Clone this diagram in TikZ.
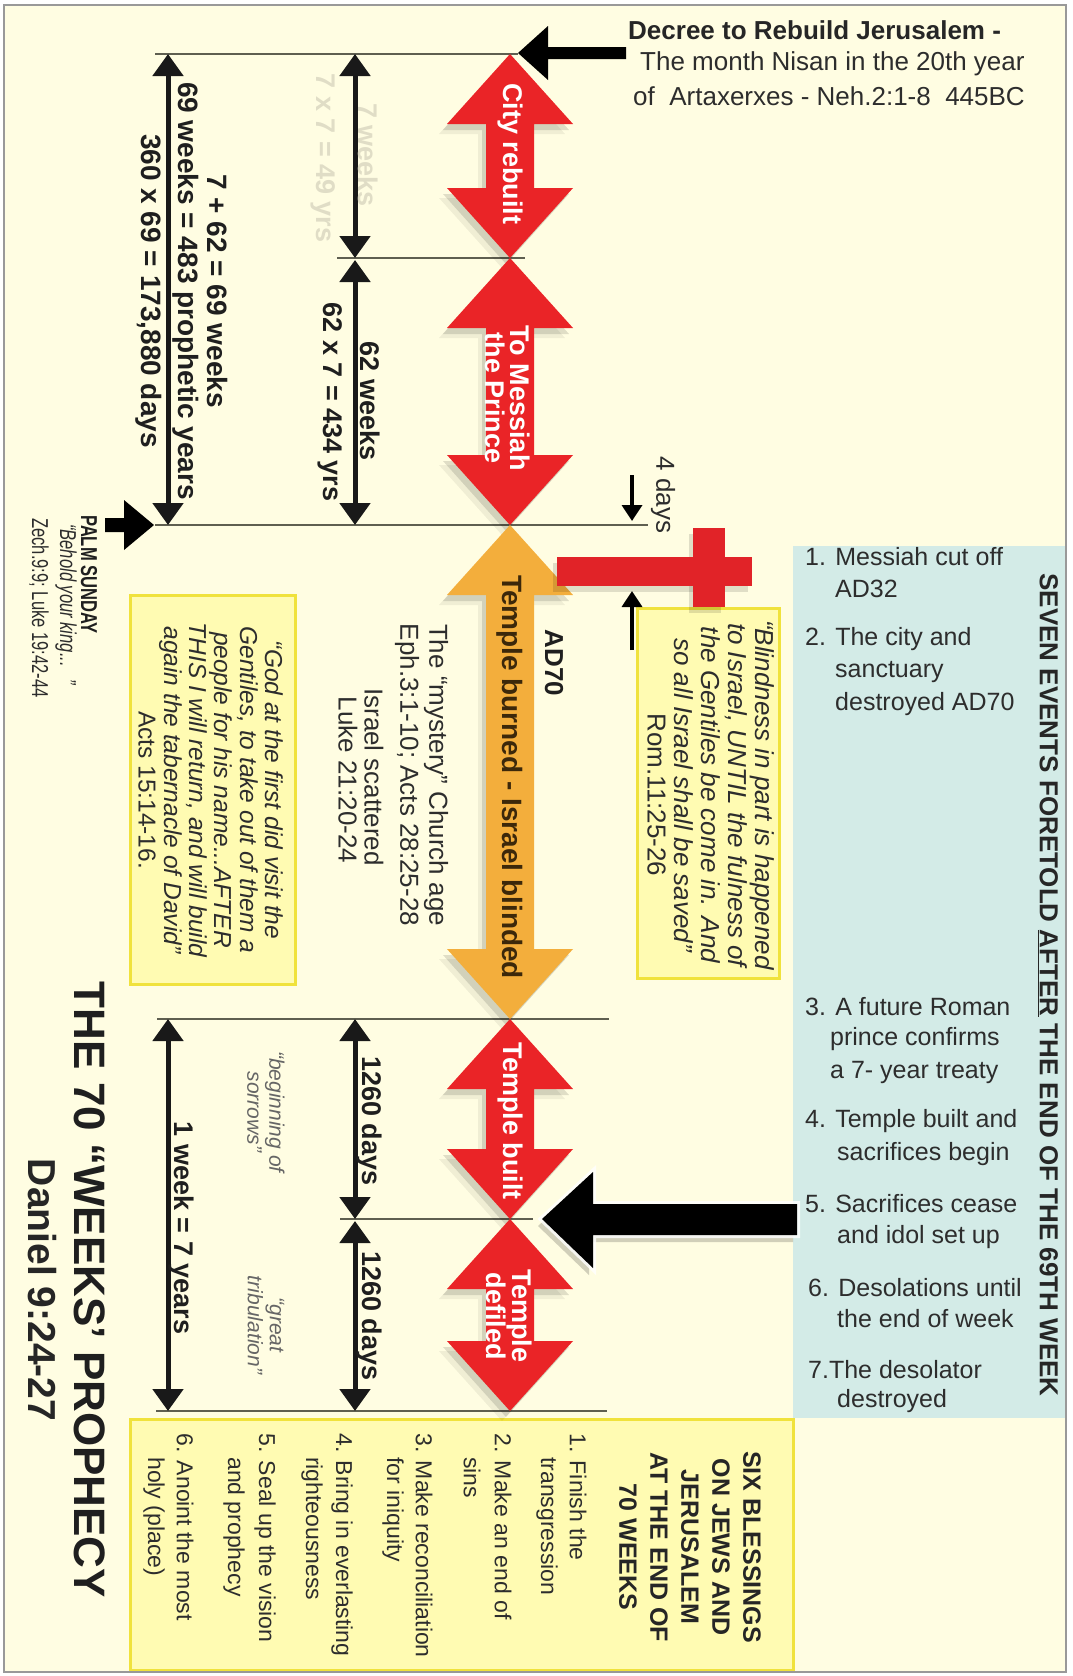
\documentclass[tikz,border=0pt]{standalone}
\usepackage{fontspec}
\setmainfont{Liberation Sans}
\usetikzlibrary{arrows.meta}
\definecolor{cream}{RGB}{255,253,226}
\definecolor{arred}{RGB}{234,36,39}
\definecolor{arorange}{RGB}{243,174,60}
\definecolor{boxyel}{RGB}{255,251,178}
\definecolor{boxyelbd}{RGB}{240,226,60}
\definecolor{boxblue}{RGB}{211,235,231}
\definecolor{txt}{RGB}{45,45,45}
\definecolor{faint}{RGB}{224,221,198}
\definecolor{linegray}{RGB}{95,95,80}
\definecolor{crossred}{RGB}{225,35,40}
\definecolor{burntxt}{RGB}{60,40,10}
\newcommand{\fsz}[2]{\fontsize{#1}{#2}\selectfont}
\newcommand{\narrowtxt}[1]{\scalebox{0.72}[1]{#1}}
\newcommand{\dblpath}[3]{(#1,#2) -- (#1+63,#2+70) -- (#1+24,#2+70) -- (#1+24,#3-70) -- (#1+63,#3-70) -- (#1,#3) -- (#1-63,#3-70) -- (#1-24,#3-70) -- (#1-24,#2+70) -- (#1-63,#2+70) -- cycle}
\tikzset{
  vtxt/.style={rotate=-90},
  whitelab/.style={rotate=-90, text=white, font=\fsz{27}{25}\bfseries, align=center},
  dimlab/.style={rotate=-90, font=\fsz{27}{30}\bfseries, text=black!88},
  dimarr/.style={line width=5pt, draw=black!90, {Triangle[width=30pt,length=22pt]}-{Triangle[width=30pt,length=22pt]}},
  smallarr/.style={line width=3.5pt, draw=black, -{Triangle[width=20pt,length=16pt]}},
  tline/.style={line width=2pt, draw=linegray},
  yelbox/.style={fill=boxyel, draw=boxyelbd, line width=3pt},
  bluetxt/.style={anchor=west, font=\fsz{25}{28}},
  itemtxt/.style={rotate=-90, anchor=west, font=\fsz{23}{25}},
}
\begin{document}
\begin{tikzpicture}[x=1pt,y=-1pt, every node/.style={inner sep=0pt, text=txt}]
\useasboundingbox (0,0) rectangle (1073,1676);
\fill[white] (0,0) rectangle (1073,1676);
\fill[cream] (4,5) rectangle (1066,1672);

% boxes
\fill[boxblue] (793,546) rectangle (1066,1418);
\draw[yelbox] (130,1419) rectangle (793,1670);
\draw[yelbox] (130,595) rectangle (295,984);
\draw[yelbox] (637,608) rectangle (779,978);

% timeline tick lines
\coordinate (T0a) at (155,54);   \coordinate (T0b) at (518,54);
\coordinate (T1a) at (337,258);  \coordinate (T1b) at (525,258);
\coordinate (T2a) at (155,525);  \coordinate (T2b) at (648,525);
\coordinate (T3a) at (157,1019); \coordinate (T3b) at (609,1019);
\coordinate (T4a) at (340,1219); \coordinate (T4b) at (533,1219);
\coordinate (T5a) at (156,1411); \coordinate (T5b) at (607,1411);
\foreach \n in {0,...,5} { \draw[tline] (T\n a) -- (T\n b); }

% shadows of central arrows
\foreach \sx/\sy/\op in {-8/10/0.06,-4/6/0.12} {
  \fill[black,opacity=\op,shift={(\sx,\sy)}] \dblpath{510}{54}{258};
  \fill[black,opacity=\op,shift={(\sx,\sy)}] \dblpath{510}{258}{525};
  \fill[black,opacity=\op,shift={(\sx,\sy)}] \dblpath{510}{525}{1019};
  \fill[black,opacity=\op,shift={(\sx,\sy)}] \dblpath{510}{1019}{1219};
  \fill[black,opacity=\op,shift={(\sx,\sy)}] \dblpath{510}{1219}{1411};
}
% central arrows
\fill[arred] \dblpath{510}{54}{258};
\fill[arred] \dblpath{510}{258}{525};
\fill[arorange] \dblpath{510}{525}{1019};
\fill[arred] \dblpath{510}{1019}{1219};
\fill[arred] \dblpath{510}{1219}{1411};

% cross
\fill[black,opacity=0.12] (553,563) rectangle (748,592);
\fill[black,opacity=0.12] (689,534) rectangle (721,613);
\fill[crossred] (557,557) rectangle (752,586);
\fill[crossred] (693,528) rectangle (725,607);

% black pointer arrows
\fill[black] (518,53) -- (548,26) -- (548,47) -- (626,47) -- (626,59) -- (548,59) -- (548,80) -- cycle;
\fill[black] (154,525) -- (124,500) -- (124,518) -- (105,518) -- (105,532) -- (124,532) -- (124,550) -- cycle;
\fill[black,opacity=0.18] (538,1226) -- (589,1179) -- (589,1211) -- (793,1211) -- (793,1242) -- (589,1242) -- (589,1275) -- cycle;
\draw[white,line width=6pt,opacity=0.8,line join=miter] (542,1219) -- (593,1172) -- (593,1204) -- (797,1204) -- (797,1235) -- (593,1235) -- (593,1268) -- cycle;
\fill[black] (542,1219) -- (593,1172) -- (593,1204) -- (797,1204) -- (797,1235) -- (593,1235) -- (593,1268) -- cycle;

% dimension arrows
\coordinate (A7a) at (355,54);   \coordinate (A7b) at (355,258);
\coordinate (A62a) at (355,260); \coordinate (A62b) at (355,525);
\coordinate (A69a) at (168,54);  \coordinate (A69b) at (168,525);
\coordinate (B1a) at (355,1019); \coordinate (B1b) at (355,1219);
\coordinate (B2a) at (355,1221); \coordinate (B2b) at (355,1411);
\coordinate (W1a) at (168,1019); \coordinate (W1b) at (168,1411);
\draw[dimarr] (A7a) -- (A7b);
\draw[dimarr] (A62a) -- (A62b);
\draw[dimarr] (A69a) -- (A69b);
\draw[dimarr] (B1a) -- (B1b);
\draw[dimarr] (B2a) -- (B2b);
\draw[dimarr] (W1a) -- (W1b);
\coordinate (D1a) at (632,475); \coordinate (D1b) at (632,521);
\coordinate (D2a) at (632,650); \coordinate (D2b) at (632,591);
\draw[smallarr] (D1a) -- (D1b);
\draw[smallarr] (D2a) -- (D2b);

% labels in central arrows
\node[whitelab] (cityL) at (510,154) {City rebuilt};
\node[whitelab] (messL) at (508,398) {To Messiah\\the Prince};
\node[vtxt, font=\fsz{28}{30}\bfseries, text=burntxt] (burnL) at (510,777) {Temple burned - Israel blinded};
\node[whitelab] (builtL) at (510,1121) {Temple built};
\node[whitelab] (defL) at (509,1316) {Temple\\defiled};

% dimension labels
\node[dimlab, text=faint] (l7w) at (368,155) {7 weeks};
\node[dimlab, text=faint] (l7x) at (323,158) {7 x 7 = 49 yrs};
\node[dimlab] (l62w) at (370,401) {62 weeks};
\node[dimlab] (l62x) at (330,402) {62 x 7 = 434 yrs};
\node[dimlab, font=\fsz{28}{30}\bfseries] (l69a) at (218,291) {7 + 62 = 69 weeks};
\node[dimlab, font=\fsz{28}{30}\bfseries] (l69b) at (186,291) {69 weeks = 483 prophetic years};
\node[dimlab, font=\fsz{28}{30}\bfseries] (l69c) at (149,291) {360 x 69 = 173,880 days};
\node[dimlab] (l1260a) at (369,1121) {1260 days};
\node[dimlab] (l1260b) at (369,1316) {1260 days};
\node[vtxt, font=\fsz{21}{22}\itshape, text=black!60, align=center] (lbeg) at (266,1112) {“beginning of\\sorrows”};
\node[vtxt, font=\fsz{21}{22}\itshape, text=black!60, align=center] (lgreat) at (266,1325) {“great\\tribulation”};
\node[dimlab] (lweek) at (181,1228) {1 week = 7 years};

% title
\node[vtxt, font=\fsz{44}{46}\bfseries, text=black!88] (title) at (90,1290) {THE 70 “WEEKS’ PROPHECY};
\node[vtxt, font=\fsz{39}{40}\bfseries, text=black!85] (dan) at (42,1290) {Daniel 9:24-27};

% palm sunday
\node[vtxt, anchor=west, font=\fsz{23}{24}\bfseries, text=black!88] (palm) at (89,515) {\narrowtxt{PALM SUNDAY}};
\node[vtxt, anchor=west, font=\fsz{23}{24}\itshape] (behold) at (66,524) {\narrowtxt{“Behold your king...\hspace{18pt}”}};
\node[vtxt, anchor=west, font=\fsz{23}{24}] (zech) at (39,518) {\narrowtxt{Zech.9:9; Luke 19:42-44}};

% decree
\node[anchor=west, font=\fsz{26}{30}\bfseries, text=black!85] (dec1) at (628,30) {Decree to Rebuild Jerusalem -};
\node[anchor=west, font=\fsz{26}{30}] (dec2) at (640,64) {The month Nisan in the 20th year};
\node[anchor=west, font=\fsz{26}{30}] (dec3) at (633,96) {of\ \ Artaxerxes - Neh.2:1-8\ \ 445BC};

% AD70, 4 days, church age
\node[vtxt, font=\fsz{26}{28}\bfseries, text=black!88] (ad70) at (554,663) {AD70};
\node[vtxt, font=\fsz{26}{28}] (days4) at (663,495) {4 days};
\node[vtxt, font=\fsz{26}{28}] (ch1) at (436,775) {The “mystery” Church age};
\node[vtxt, font=\fsz{26}{28}] (ch2) at (407,775) {Eph.3:1-10; Acts 28:25-28};
\node[vtxt, font=\fsz{26}{28}] (ch3) at (374,777) {Israel scattered};
\node[vtxt, font=\fsz{26}{28}] (ch4) at (348,780) {Luke 21:20-24};

% quote boxes
\node[vtxt, font=\fsz{26}{27}\itshape, align=center] (blind) at (711,795)
  {“Blindness in part is happened\\to Israel, UNTIL the fulness of\\the Gentiles be come in. And\\so all Israel shall be saved”\\\upshape Rom.11:25-26};
\node[vtxt, font=\fsz{24.5}{25.4}\itshape, align=center] (god) at (211,790)
  {“God at the first did visit the\\Gentiles, to take out of them a\\people for his name...AFTER\\THIS I will return, and will build\\again the tabernacle of David”\\\upshape Acts 15:14-16.};

% seven events
\node[vtxt, font=\fsz{26}{28}\bfseries, text=black!85] (seven) at (1048,985) {SEVEN EVENTS FORETOLD \underline{AFTER} THE END OF THE 69TH WEEK};
\node[bluetxt] (e1a) at (805,557) {1. Messiah cut off};
\node[bluetxt] (e1b) at (835,589) {AD32};
\node[bluetxt] (e2a) at (805,639) {2. The city and};
\node[bluetxt] (e2b) at (835,672) {sanctuary};
\node[bluetxt] (e2c) at (835,704) {destroyed AD70};
\node[bluetxt] (e3a) at (805,1007) {3. A future Roman};
\node[bluetxt] (e3b) at (830,1039) {prince confirms};
\node[bluetxt] (e3c) at (830,1072) {a 7- year treaty};
\node[bluetxt] (e4a) at (805,1121) {4. Temple built and};
\node[bluetxt] (e4b) at (837,1154) {sacrifices begin};
\node[bluetxt] (e5a) at (805,1204) {5. Sacrifices cease};
\node[bluetxt] (e5b) at (837,1237) {and idol set up};
\node[bluetxt] (e6a) at (808,1288) {6. Desolations until};
\node[bluetxt] (e6b) at (837,1319) {the end of week};
\node[bluetxt] (e7a) at (808,1370) {7.The desolator};
\node[bluetxt] (e7b) at (837,1401) {destroyed};

% six blessings
\node[vtxt, font=\fsz{25}{31}\bfseries, align=center, text=black!85] (six) at (690,1547) {SIX BLESSINGS\\ON JEWS AND\\JERUSALEM\\AT THE END OF\\70 WEEKS};
\node[itemtxt] (b1a) at (578,1433) {1. Finish the};
\node[itemtxt] (b1b) at (547,1457) {transgression};
\node[itemtxt] (b2a) at (503,1433) {2. Make an end of};
\node[itemtxt] (b2b) at (472,1457) {sins};
\node[itemtxt] (b3a) at (424,1433) {3. Make reconciliation};
\node[itemtxt] (b3b) at (393,1457) {for iniquity};
\node[itemtxt] (b4a) at (342,1433) {4. Bring in everlasting};
\node[itemtxt] (b4b) at (312,1457) {righteousness};
\node[itemtxt] (b5a) at (265,1433) {5. Seal up the vision};
\node[itemtxt] (b5b) at (234,1457) {and prophecy};
\node[itemtxt] (b6a) at (185,1433) {6. Anoint the most};
\node[itemtxt] (b6b) at (154,1457) {holy (place)};

% frame
\draw[black!40, line width=2.5pt] (4,5) rectangle (1066,1672);
\end{tikzpicture}
\end{document}
